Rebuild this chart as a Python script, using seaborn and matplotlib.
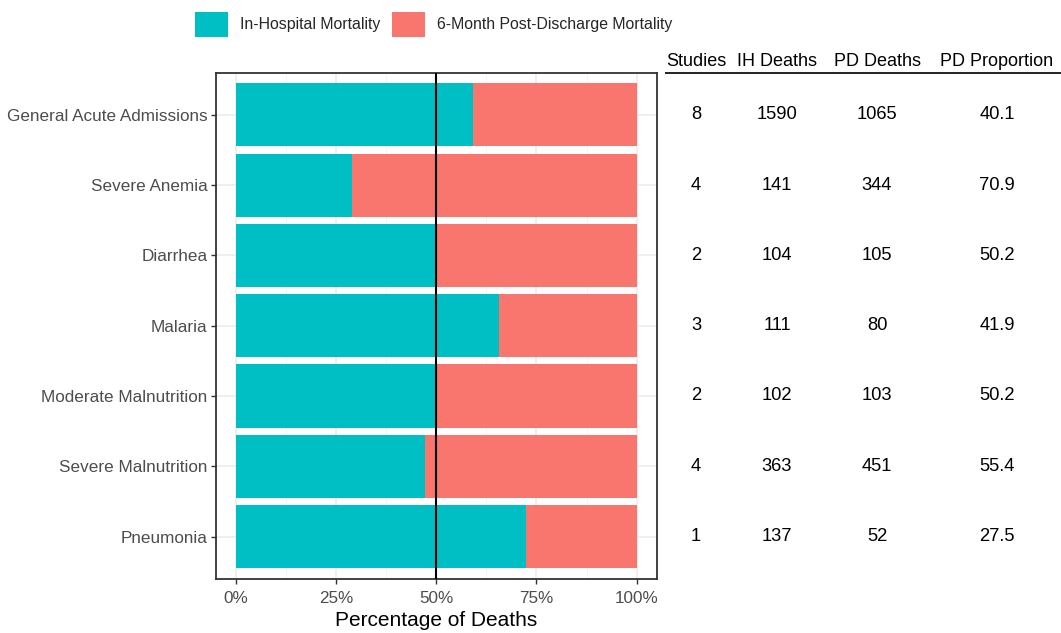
import matplotlib
matplotlib.use("Agg")
import matplotlib.pyplot as plt
import matplotlib.transforms as mtransforms
from matplotlib.patches import Patch
import seaborn as sns
import pandas as pd

# Admission categories (top to bottom) and share of deaths occurring in hospital (%)
categories = ["General Acute Admissions", "Severe Anemia", "Diarrhea", "Malaria",
              "Moderate Malnutrition", "Severe Malnutrition", "Pneumonia"]
in_hospital_pct = [59.1, 29.0, 49.8, 65.6, 49.8, 47.3, 72.5]

# Summary table shown to the right of the bars
studies = [8, 4, 2, 3, 2, 4, 1]
ih_deaths = [1590, 141, 104, 111, 102, 363, 137]
pd_deaths = [1065, 344, 105, 80, 103, 451, 52]
pd_proportion = ["40.1", "70.9", "50.2", "41.9", "50.2", "55.4", "27.5"]
table_headers = ["Studies", "IH Deaths", "PD Deaths", "PD Proportion"]

x_ticks = [0, 25, 50, 75, 100]
x_tick_labels = ["0%", "25%", "50%", "75%", "100%"]
legend_labels = ["In-Hospital Mortality", "6-Month Post-Discharge Mortality"]

TEAL = "#00BFC4"
RED = "#F8766D"

sns.set_theme(style="white")
plt.rcParams["font.family"] = ["Liberation Sans", "DejaVu Sans"]

df = pd.DataFrame({
    "category": categories,
    "in_hospital": in_hospital_pct,
    "total": [100.0] * len(categories),
})

W, H = 1061, 633
fig = plt.figure(figsize=(W / 100, H / 100), dpi=100)
left, right, top, bottom = 215.7, 656.7, 72.7, 578.7
ax = fig.add_axes([left / W, 1 - bottom / H, (right - left) / W, (bottom - top) / H])

# Full-width post-discharge bar, with the in-hospital share drawn over it
sns.barplot(data=df, x="total", y="category", color=RED, width=0.9,
            saturation=1, linewidth=0, ax=ax, orient="h")
sns.barplot(data=df, x="in_hospital", y="category", color=TEAL, width=0.9,
            saturation=1, linewidth=0, ax=ax, orient="h")

ax.set_xlim(-5, 105)
ax.set_ylim(len(categories) - 0.4, -0.6)
ax.set_xticks(x_ticks)
ax.set_xticklabels(x_tick_labels)
ax.set_xticks([12.5, 37.5, 62.5, 87.5], minor=True)
ax.set_axisbelow(True)
ax.grid(which="major", color="#EBEBEB", lw=1.1)
ax.grid(which="minor", axis="x", color="#F2F2F2", lw=0.6)
ax.axvline(50, color="black", lw=1.5, zorder=5)

for s in ax.spines.values():
    s.set_visible(True)
    s.set_color("#333333")
    s.set_linewidth(1.3)
ax.tick_params(which="major", length=3.5, width=1, color="#333333",
               labelsize=12.3, labelcolor="#4D4D4D", pad=2.5,
               bottom=True, left=True)
ax.tick_params(axis="x", which="major", pad=5)
ax.tick_params(which="minor", length=0)
ax.set_xlabel("Percentage of Deaths", fontsize=15, color="black", labelpad=4)
ax.set_ylabel("")

# Legend above the panel
handles = [Patch(facecolor=TEAL, edgecolor="none"), Patch(facecolor=RED, edgecolor="none")]
fig.legend(handles, legend_labels, loc="center left",
           bbox_to_anchor=(195 / W, 1 - 24.5 / H), ncol=2, frameon=False,
           fontsize=11.4, handlelength=2.1, handleheight=2.1,
           handletextpad=0.75, columnspacing=0.7, borderaxespad=0, borderpad=0)

# Summary table aligned with the bar rows
tx0 = 660
ax2 = fig.add_axes([tx0 / W, 1 - bottom / H, (W - tx0) / W, (bottom - top) / H], sharey=ax)
ax2.set_xlim(tx0, W)
ax2.axis("off")
col_x = [696, 777, 877, 997]
blend = mtransforms.blended_transform_factory(ax2.transData, ax2.transAxes)
for cx, head in zip(col_x, table_headers):
    ax2.text(cx, 1.023, head, transform=blend, ha="center", va="center",
             fontsize=13, color="black", clip_on=False)
ax2.plot([665, W], [1.0, 1.0], transform=blend, color="#222222", lw=1.4,
         clip_on=False, solid_capstyle="butt")
for i in range(len(categories)):
    row = [str(studies[i]), str(ih_deaths[i]), str(pd_deaths[i]), pd_proportion[i]]
    for cx, val in zip(col_x, row):
        ax2.text(cx, i, val, ha="center", va="center", fontsize=13.2, color="black")

fig.savefig("out.png", dpi=100)
